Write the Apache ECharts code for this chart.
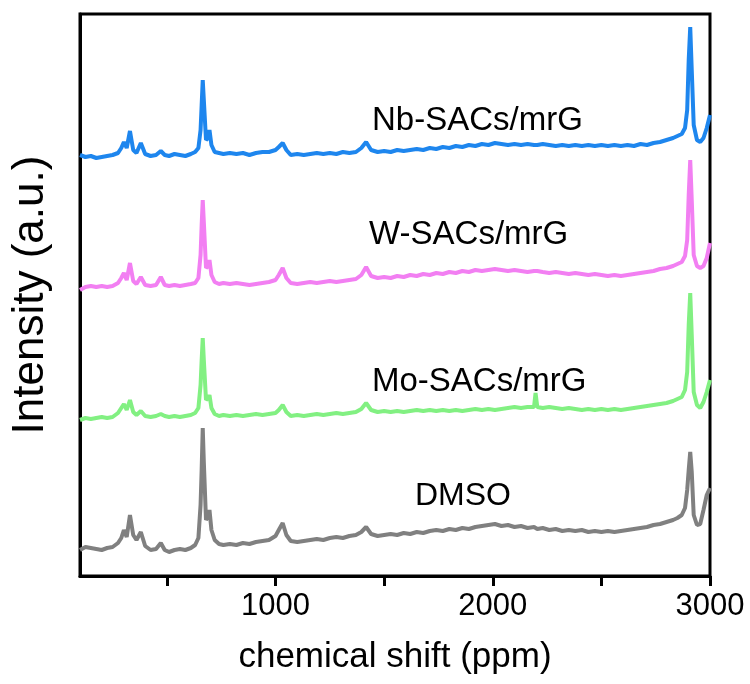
<!DOCTYPE html>
<html>
<head>
<meta charset="utf-8">
<script src="https://cdn.jsdelivr.net/npm/echarts@6/dist/echarts.min.js"></script>
<style>
html,body{margin:0;padding:0;background:#fff;}
#chart{width:750px;height:684px;}
</style>
</head>
<body>
<div id="chart"></div>
<script>
// chemical shift (ppm) sample positions
const shift = [100,125,150,175,200,225,250,275,290,302,315,330,345,360,380,400,425,450,472,490,510,535,560,585,610,630,645,655,660,665,670,680,690,696,705,720,740,760,790,820,850,880,910,940,970,1000,1015,1033,1050,1070,1100,1130,1160,1190,1220,1250,1280,1310,1340,1370,1395,1417,1440,1470,1500,1530,1560,1590,1620,1650,1680,1710,1740,1770,1800,1830,1860,1890,1920,1950,1980,2010,2040,2070,2100,2130,2160,2190,2197,2205,2230,2260,2290,2320,2350,2380,2410,2440,2470,2500,2530,2560,2590,2620,2650,2680,2710,2740,2770,2800,2830,2850,2870,2885,2895,2902,2909,2916,2925,2940,2955,2970,2985,3000];

// intensities (a.u., stacked with vertical offsets as in the figure)
const nb = [421,419,420,418,419,420,421,423,428,434,428,445,426,423,433,422,420,421,425,421,420,422,421,420,422,424,428,446,471,496,476,436,438,446,431,424,423,422,423,422,423,421,423,424,424,426,429,433,426,421,422,421,422,423,422,423,422,424,423,424,428,434,426,424,425,424,426,425,426,427,426,428,427,429,428,430,429,431,430,432,431,433,432,431,432,431,432,431,432,431,432,431,430,431,430,431,430,431,430,431,430,431,430,431,430,432,431,433,434,436,438,440,442,448,466,516,549,506,451,436,434,438,448,461];
const w = [286,289,290,289,290,289,290,293,298,303,296,313,295,292,299,291,290,291,299,291,290,291,290,291,292,293,298,321,351,376,354,308,310,316,301,294,292,293,292,293,292,291,292,293,294,296,301,308,298,293,292,293,294,293,294,295,294,295,296,297,301,309,300,298,299,298,300,299,301,300,302,301,303,302,304,303,305,304,306,305,306,307,306,305,306,305,304,305,304,305,304,303,304,303,302,303,302,301,302,301,300,301,300,301,302,303,304,305,307,308,310,312,314,320,336,381,416,376,321,310,308,310,318,333];
const mo = [156,158,157,158,159,158,159,163,168,172,166,176,164,161,165,160,159,160,162,160,159,160,159,160,161,163,168,191,216,238,216,176,178,181,168,162,160,161,160,161,160,161,162,161,162,163,166,171,164,160,161,160,161,162,161,162,163,162,163,164,167,173,166,164,165,164,165,164,165,166,165,166,165,166,165,166,165,166,167,166,167,166,167,168,169,168,169,169,183,169,168,169,168,167,168,167,166,167,166,167,166,167,166,167,168,169,170,171,172,173,175,177,179,186,204,251,283,241,184,171,168,174,184,196];
const dmso = [26,29,28,27,26,28,29,33,38,46,39,61,41,36,44,30,26,27,33,26,24,26,27,26,28,31,38,71,106,148,114,56,60,66,46,36,32,31,32,31,33,32,34,35,36,40,46,53,41,35,34,35,36,37,36,38,39,38,40,41,44,49,42,40,41,42,41,43,42,44,43,45,46,45,47,46,48,47,49,50,51,52,50,51,49,50,48,49,48,47,48,46,47,45,46,45,46,44,45,44,45,44,45,46,47,48,49,51,52,54,56,58,61,68,86,106,124,104,61,51,52,66,81,88];

const seriesNames = ['Nb-SACs/mrG','W-SACs/mrG','Mo-SACs/mrG','DMSO'];
const seriesColors = ['#1E86EE','#F27FF2','#82F082','#808080'];
const xTicks = [500,1000,1500,2000,2500,3000];
const xLabels = [1000,2000,3000];

const seriesData = [nb, w, mo, dmso];
const font = '"Liberation Sans", Arial, sans-serif';

const chart = echarts.init(document.getElementById('chart'), null, {renderer:'canvas'});
chart.setOption({
  animation:false,
  backgroundColor:'#fff',
  grid:{left:80,right:40,top:14,bottom:108,containLabel:false,outerBoundsMode:'none',
    show:true,borderColor:'#000',borderWidth:3,backgroundColor:'transparent'},
  xAxis:{
    type:'value',min:100,max:3000,
    name:'chemical shift (ppm)',nameLocation:'middle',nameGap:64,
    nameTextStyle:{fontFamily:font,fontSize:35,color:'#000'},
    axisLine:{show:true,lineStyle:{color:'#000',width:3}},
    axisTick:{show:true,length:10,inside:false,customValues:xTicks,lineStyle:{color:'#000',width:3}},
    axisLabel:{show:true,customValues:xLabels,margin:15,fontFamily:font,fontSize:31,color:'#000',
      formatter:v=>String(v)},
    splitLine:{show:false}
  },
  yAxis:{
    type:'value',min:0,max:562,
    name:'Intensity (a.u.)',nameLocation:'middle',nameGap:27,
    nameTextStyle:{fontFamily:font,fontSize:44,color:'#000'},
    axisLine:{show:true,lineStyle:{color:'#000',width:3}},
    axisTick:{show:false},axisLabel:{show:false},splitLine:{show:false}
  },
  series: seriesData.map((d,i)=>({
    name:seriesNames[i],type:'line',showSymbol:false,symbol:'none',
    data:shift.map((x,j)=>[x,d[j]]),
    lineStyle:{color:seriesColors[i],width:4},
    itemStyle:{color:seriesColors[i]},
    z:2
  })),
  graphic:[
    {type:'text',left:372,top:104,style:{text:seriesNames[0],font:'33px '+font,fill:'#000'}},
    {type:'text',left:369,top:218,style:{text:seriesNames[1],font:'33px '+font,fill:'#000'}},
    {type:'text',left:372,top:365,style:{text:seriesNames[2],font:'33px '+font,fill:'#000'}},
    {type:'text',left:415,top:480,style:{text:seriesNames[3],font:'32px '+font,fill:'#000'}}
  ]
});
</script>
</body>
</html>
